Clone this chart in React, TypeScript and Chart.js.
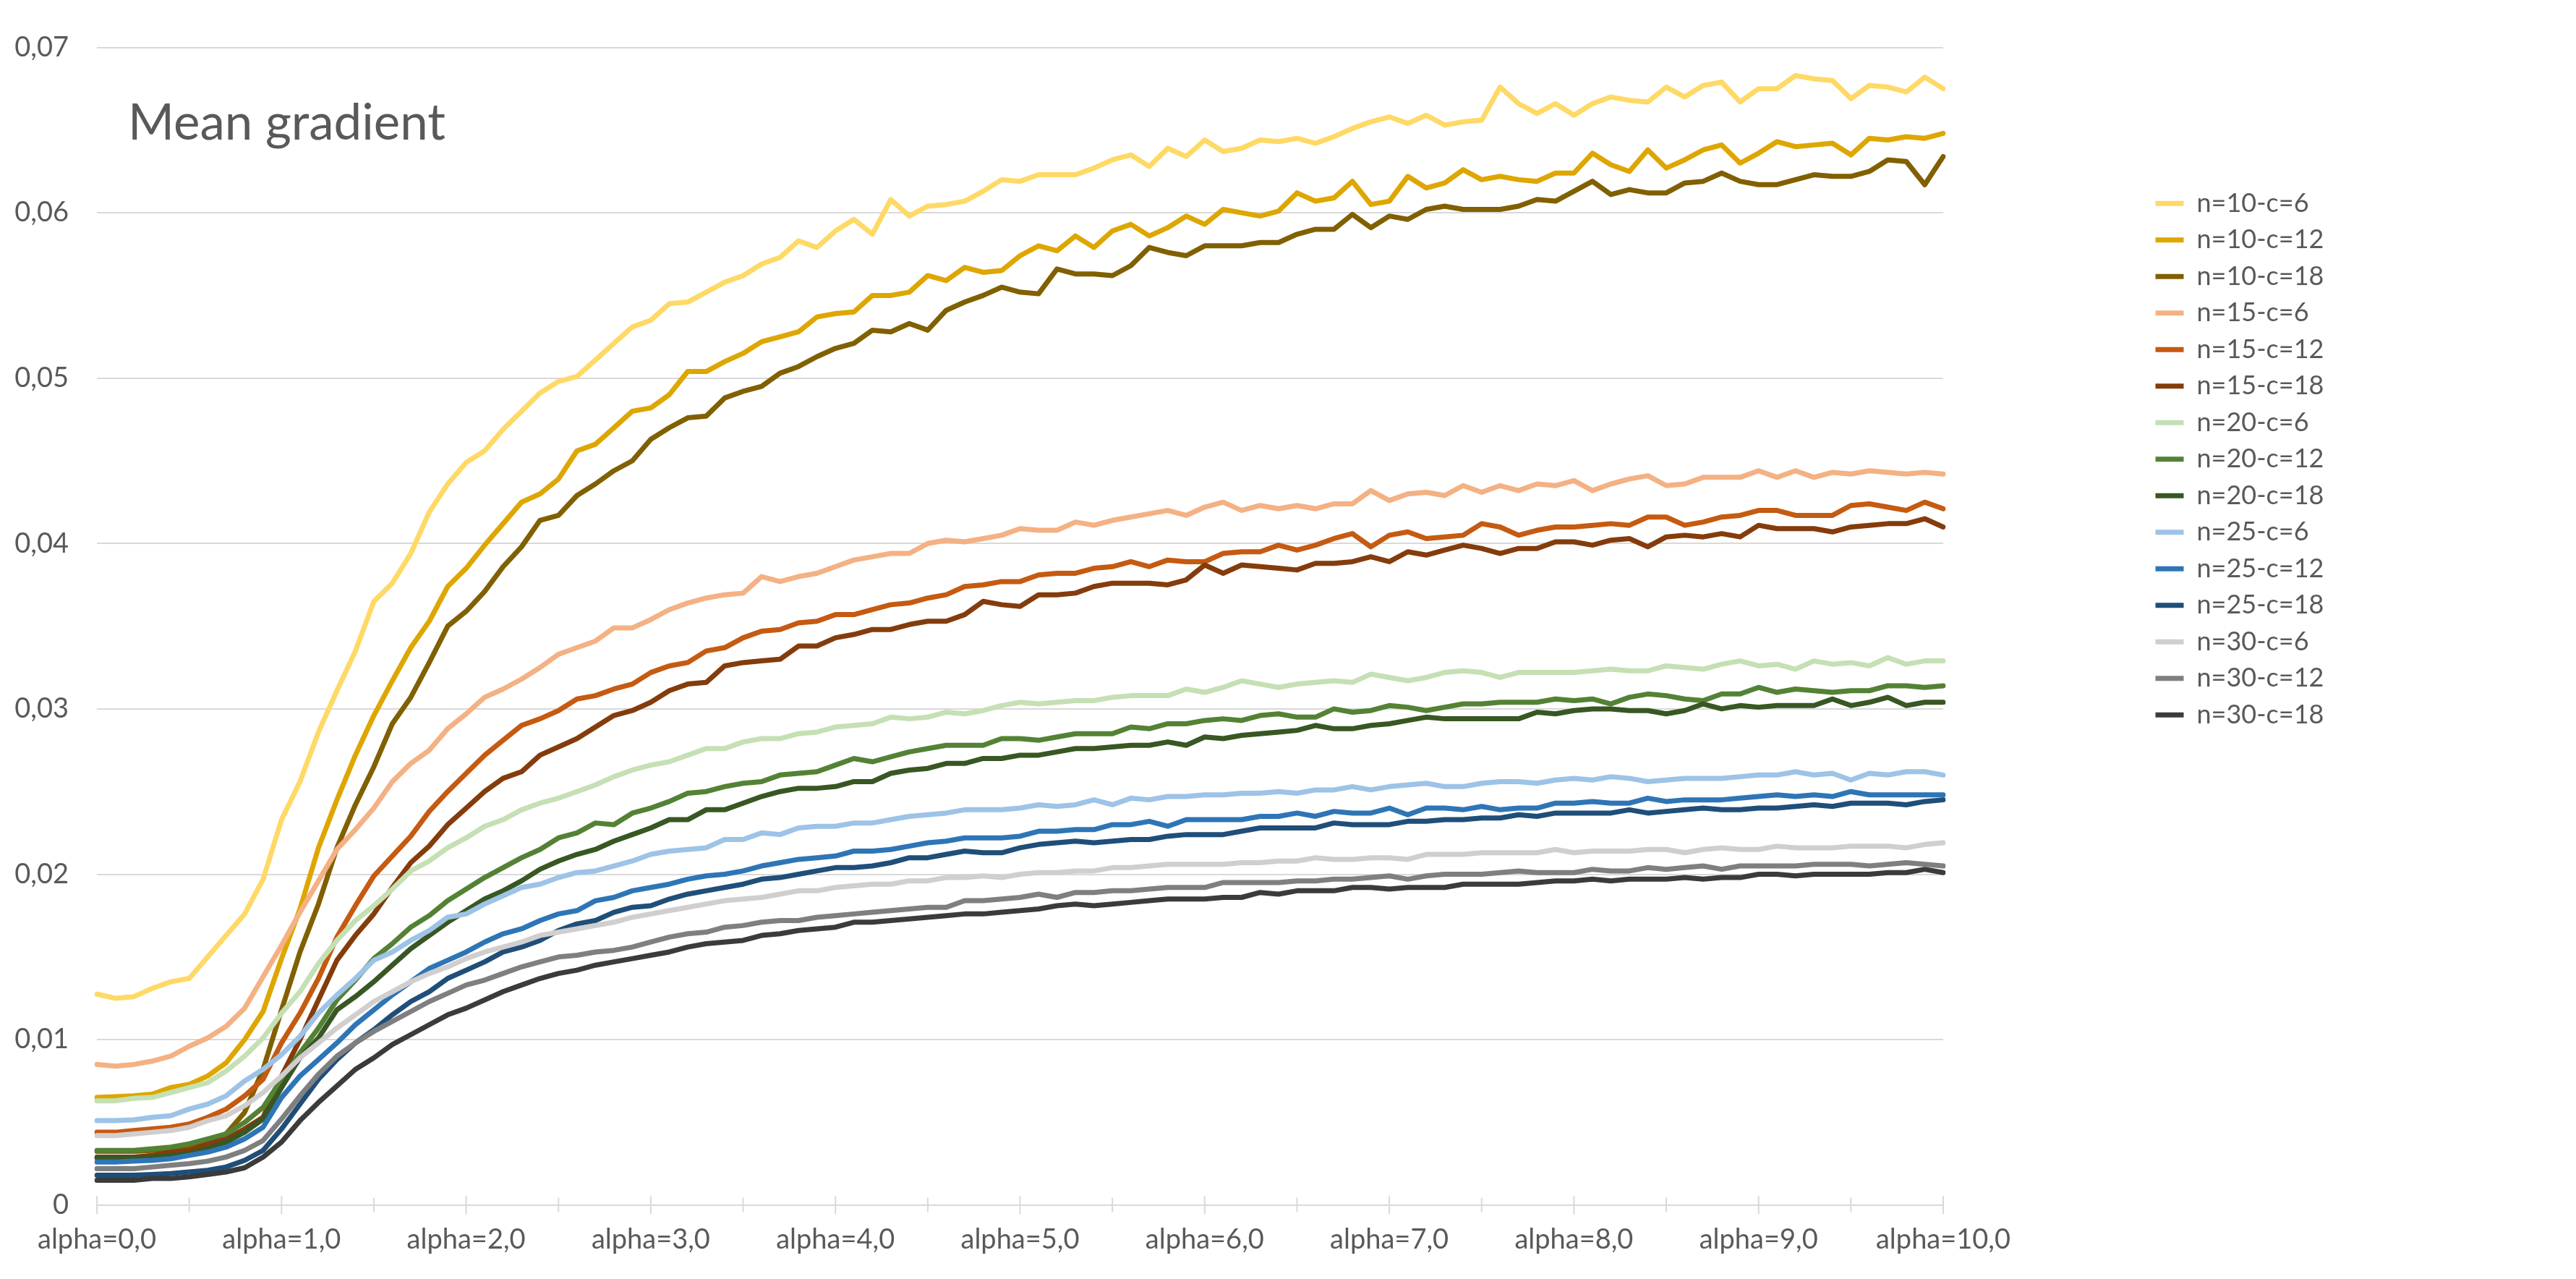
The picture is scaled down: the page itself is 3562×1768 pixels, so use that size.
import React, { useEffect, useRef } from "react";
import Chart from "chart.js/auto";

// category axis: alpha from 0,0 to 10,0 in steps of 0,1
const alphaLabels = [
  "alpha=0,0", "alpha=0,1", "alpha=0,2", "alpha=0,3", "alpha=0,4", "alpha=0,5", "alpha=0,6", "alpha=0,7", "alpha=0,8", "alpha=0,9",
  "alpha=1,0", "alpha=1,1", "alpha=1,2", "alpha=1,3", "alpha=1,4", "alpha=1,5", "alpha=1,6", "alpha=1,7", "alpha=1,8", "alpha=1,9",
  "alpha=2,0", "alpha=2,1", "alpha=2,2", "alpha=2,3", "alpha=2,4", "alpha=2,5", "alpha=2,6", "alpha=2,7", "alpha=2,8", "alpha=2,9",
  "alpha=3,0", "alpha=3,1", "alpha=3,2", "alpha=3,3", "alpha=3,4", "alpha=3,5", "alpha=3,6", "alpha=3,7", "alpha=3,8", "alpha=3,9",
  "alpha=4,0", "alpha=4,1", "alpha=4,2", "alpha=4,3", "alpha=4,4", "alpha=4,5", "alpha=4,6", "alpha=4,7", "alpha=4,8", "alpha=4,9",
  "alpha=5,0", "alpha=5,1", "alpha=5,2", "alpha=5,3", "alpha=5,4", "alpha=5,5", "alpha=5,6", "alpha=5,7", "alpha=5,8", "alpha=5,9",
  "alpha=6,0", "alpha=6,1", "alpha=6,2", "alpha=6,3", "alpha=6,4", "alpha=6,5", "alpha=6,6", "alpha=6,7", "alpha=6,8", "alpha=6,9",
  "alpha=7,0", "alpha=7,1", "alpha=7,2", "alpha=7,3", "alpha=7,4", "alpha=7,5", "alpha=7,6", "alpha=7,7", "alpha=7,8", "alpha=7,9",
  "alpha=8,0", "alpha=8,1", "alpha=8,2", "alpha=8,3", "alpha=8,4", "alpha=8,5", "alpha=8,6", "alpha=8,7", "alpha=8,8", "alpha=8,9",
  "alpha=9,0", "alpha=9,1", "alpha=9,2", "alpha=9,3", "alpha=9,4", "alpha=9,5", "alpha=9,6", "alpha=9,7", "alpha=9,8", "alpha=9,9",
  "alpha=10,0",
];

const seriesNames = [
  "n=10-c=6", "n=10-c=12", "n=10-c=18",
  "n=15-c=6", "n=15-c=12", "n=15-c=18",
  "n=20-c=6", "n=20-c=12", "n=20-c=18",
  "n=25-c=6", "n=25-c=12", "n=25-c=18",
  "n=30-c=6", "n=30-c=12", "n=30-c=18",
];

const seriesColors = [
  "#FFD966", "#DEA600", "#806000",
  "#F4B183", "#C55A11", "#843C0C",
  "#C5E0B4", "#548235", "#385723",
  "#9DC3E6", "#2E75B6", "#1F4E79",
  "#D0CECE", "#7F7F7F", "#3B3B3B",
];

const n10c6 = [
  0.01275, 0.0125, 0.0126, 0.0131, 0.0135, 0.0137, 0.015, 0.0163, 0.0176, 0.0197,
  0.0233, 0.0256, 0.0286, 0.0311, 0.0335, 0.0365, 0.0376, 0.0394, 0.0419, 0.0436,
  0.0449, 0.0456, 0.0469, 0.048, 0.0491, 0.0498, 0.0501, 0.0511,
  0.0521, 0.0531, 0.0535, 0.0545, 0.0546, 0.0552, 0.0558, 0.0562, 0.0569, 0.0573,
  0.0583, 0.0579, 0.0589, 0.0596, 0.0587, 0.0608, 0.0598, 0.0604, 0.0605, 0.0607,
  0.0613, 0.062, 0.0619, 0.0623, 0.0623, 0.0623, 0.0627, 0.0632, 0.0635, 0.0628,
  0.0639, 0.0634, 0.0644, 0.0637, 0.0639, 0.0644,
  0.0643, 0.0645, 0.0642, 0.0646, 0.0651, 0.0655, 0.0658, 0.0654, 0.0659, 0.0653,
  0.0655, 0.0656, 0.0676, 0.0666, 0.066, 0.0666, 0.0659, 0.0666, 0.067, 0.0668,
  0.0667, 0.0676, 0.067, 0.0677, 0.0679, 0.0667, 0.0675, 0.0675, 0.0683, 0.0681,
  0.068, 0.0669, 0.0677, 0.0676, 0.0673, 0.0682, 0.0675,
];

const n10c12 = [
  0.0065, 0.00655, 0.0066, 0.0067, 0.0071, 0.0073, 0.0078, 0.0086, 0.01, 0.0117,
  0.0149, 0.0179, 0.0216, 0.0245, 0.0272, 0.0296, 0.0317, 0.0337, 0.0353, 0.0374,
  0.0385, 0.0399, 0.0412, 0.0425, 0.043, 0.0439, 0.0456, 0.046,
  0.047, 0.048, 0.0482, 0.049, 0.0504, 0.0504, 0.051, 0.0515, 0.0522, 0.0525,
  0.0528, 0.0537, 0.0539, 0.054, 0.055, 0.055, 0.0552, 0.0562, 0.0559, 0.0567,
  0.0564, 0.0565, 0.0574, 0.058, 0.0577, 0.0586, 0.0579, 0.0589, 0.0593, 0.0586,
  0.0591, 0.0598, 0.0593, 0.0602, 0.06, 0.0598,
  0.0601, 0.0612, 0.0607, 0.0609, 0.0619, 0.0605, 0.0607, 0.0622, 0.0615, 0.0618,
  0.0626, 0.062, 0.0622, 0.062, 0.0619, 0.0624, 0.0624, 0.0636, 0.0629, 0.0625,
  0.0638, 0.0627, 0.0632, 0.0638, 0.0641, 0.063, 0.0636, 0.0643, 0.064, 0.0641,
  0.0642, 0.0635, 0.0645, 0.0644, 0.0646, 0.0645, 0.0648,
];

const n10c18 = [
  0.00325, 0.00325, 0.00325, 0.0033, 0.0034, 0.0035, 0.0038, 0.0043, 0.0056, 0.0082,
  0.0118, 0.0153, 0.0182, 0.0216, 0.0242, 0.0265, 0.0291, 0.0307, 0.0328, 0.035,
  0.0359, 0.0371, 0.0386, 0.0398, 0.0414, 0.0417, 0.0429, 0.0436,
  0.0444, 0.045, 0.0463, 0.047, 0.0476, 0.0477, 0.0488, 0.0492, 0.0495, 0.0503,
  0.0507, 0.0513, 0.0518, 0.0521, 0.0529, 0.0528, 0.0533, 0.0529, 0.0541, 0.0546,
  0.055, 0.0555, 0.0552, 0.0551, 0.0566, 0.0563, 0.0563, 0.0562, 0.0568, 0.0579,
  0.0576, 0.0574, 0.058, 0.058, 0.058, 0.0582,
  0.0582, 0.0587, 0.059, 0.059, 0.0599, 0.0591, 0.0598, 0.0596, 0.0602, 0.0604,
  0.0602, 0.0602, 0.0602, 0.0604, 0.0608, 0.0607, 0.0613, 0.0619, 0.0611, 0.0614,
  0.0612, 0.0612, 0.0618, 0.0619, 0.0624, 0.0619, 0.0617, 0.0617, 0.062, 0.0623,
  0.0622, 0.0622, 0.0625, 0.0632, 0.0631, 0.0617, 0.0634,
];

const n15c6 = [
  0.0085, 0.0084, 0.0085, 0.0087, 0.009, 0.0096, 0.0101, 0.0108, 0.0119, 0.0138,
  0.0157, 0.0177, 0.0196, 0.0215, 0.0227, 0.024, 0.0256, 0.0267, 0.0275, 0.0288,
  0.0297, 0.0307, 0.0312, 0.0318, 0.0325, 0.0333, 0.0337, 0.0341,
  0.0349, 0.0349, 0.0354, 0.036, 0.0364, 0.0367, 0.0369, 0.037, 0.038, 0.0377,
  0.038, 0.0382, 0.0386, 0.039, 0.0392, 0.0394, 0.0394, 0.04, 0.0402, 0.0401,
  0.0403, 0.0405, 0.0409, 0.0408, 0.0408, 0.0413, 0.0411, 0.0414, 0.0416, 0.0418,
  0.042, 0.0417, 0.0422, 0.0425, 0.042, 0.0423,
  0.0421, 0.0423, 0.0421, 0.0424, 0.0424, 0.0432, 0.0426, 0.043, 0.0431, 0.0429,
  0.0435, 0.0431, 0.0435, 0.0432, 0.0436, 0.0435, 0.0438, 0.0432, 0.0436, 0.0439,
  0.0441, 0.0435, 0.0436, 0.044, 0.044, 0.044, 0.0444, 0.044, 0.0444, 0.044,
  0.0443, 0.0442, 0.0444, 0.0443, 0.0442, 0.0443, 0.0442,
];

const n15c12 = [
  0.0044, 0.0044, 0.0045, 0.0046, 0.0047, 0.0049, 0.0053, 0.0058, 0.0066, 0.0076,
  0.0098, 0.0116, 0.0137, 0.0162, 0.0181, 0.0199, 0.0211, 0.0223, 0.0238, 0.025,
  0.0261, 0.0272, 0.0281, 0.029, 0.0294, 0.0299, 0.0306, 0.0308,
  0.0312, 0.0315, 0.0322, 0.0326, 0.0328, 0.0335, 0.0337, 0.0343, 0.0347, 0.0348,
  0.0352, 0.0353, 0.0357, 0.0357, 0.036, 0.0363, 0.0364, 0.0367, 0.0369, 0.0374,
  0.0375, 0.0377, 0.0377, 0.0381, 0.0382, 0.0382, 0.0385, 0.0386, 0.0389, 0.0386,
  0.039, 0.0389, 0.0389, 0.0394, 0.0395, 0.0395,
  0.0399, 0.0396, 0.0399, 0.0403, 0.0406, 0.0398, 0.0405, 0.0407, 0.0403, 0.0404,
  0.0405, 0.0412, 0.041, 0.0405, 0.0408, 0.041, 0.041, 0.0411, 0.0412, 0.0411,
  0.0416, 0.0416, 0.0411, 0.0413, 0.0416, 0.0417, 0.042, 0.042, 0.0417, 0.0417,
  0.0417, 0.0423, 0.0424, 0.0422, 0.042, 0.0425, 0.0421,
];

const n15c18 = [
  0.0029, 0.0029, 0.0029, 0.003, 0.0032, 0.0033, 0.0037, 0.004, 0.0046, 0.0053,
  0.0078, 0.01, 0.0124, 0.0148, 0.0163, 0.0176, 0.0192, 0.0207, 0.0217, 0.023,
  0.024, 0.025, 0.0258, 0.0262, 0.0272, 0.0277, 0.0282, 0.0289,
  0.0296, 0.0299, 0.0304, 0.0311, 0.0315, 0.0316, 0.0326, 0.0328, 0.0329, 0.033,
  0.0338, 0.0338, 0.0343, 0.0345, 0.0348, 0.0348, 0.0351, 0.0353, 0.0353, 0.0357,
  0.0365, 0.0363, 0.0362, 0.0369, 0.0369, 0.037, 0.0374, 0.0376, 0.0376, 0.0376,
  0.0375, 0.0378, 0.0387, 0.0382, 0.0387, 0.0386,
  0.0385, 0.0384, 0.0388, 0.0388, 0.0389, 0.0392, 0.0389, 0.0395, 0.0393, 0.0396,
  0.0399, 0.0397, 0.0394, 0.0397, 0.0397, 0.0401, 0.0401, 0.0399, 0.0402, 0.0403,
  0.0398, 0.0404, 0.0405, 0.0404, 0.0406, 0.0404, 0.0411, 0.0409, 0.0409, 0.0409,
  0.0407, 0.041, 0.0411, 0.0412, 0.0412, 0.0415, 0.041,
];

const n20c6 = [
  0.0063, 0.0063, 0.00645, 0.0065, 0.0068, 0.0071, 0.0074, 0.0081, 0.009, 0.0101,
  0.0116, 0.0129, 0.0146, 0.016, 0.0172, 0.0181, 0.0191, 0.0202, 0.0208, 0.0216,
  0.0222, 0.0229, 0.0233, 0.0239, 0.0243, 0.0246, 0.025, 0.0254,
  0.0259, 0.0263, 0.0266, 0.0268, 0.0272, 0.0276, 0.0276, 0.028, 0.0282, 0.0282,
  0.0285, 0.0286, 0.0289, 0.029, 0.0291, 0.0295, 0.0294, 0.0295, 0.0298, 0.0297,
  0.0299, 0.0302, 0.0304, 0.0303, 0.0304, 0.0305, 0.0305, 0.0307, 0.0308, 0.0308,
  0.0308, 0.0312, 0.031, 0.0313, 0.0317, 0.0315,
  0.0313, 0.0315, 0.0316, 0.0317, 0.0316, 0.0321, 0.0319, 0.0317, 0.0319, 0.0322,
  0.0323, 0.0322, 0.0319, 0.0322, 0.0322, 0.0322, 0.0322, 0.0323, 0.0324, 0.0323,
  0.0323, 0.0326, 0.0325, 0.0324, 0.0327, 0.0329, 0.0326, 0.0327, 0.0324, 0.0329,
  0.0327, 0.0328, 0.0326, 0.0331, 0.0327, 0.0329, 0.0329,
];

const n20c12 = [
  0.0033, 0.0033, 0.0033, 0.0034, 0.0035, 0.0037, 0.004, 0.0043, 0.005, 0.0059,
  0.0076, 0.0092, 0.0107, 0.0124, 0.0136, 0.0149, 0.0158, 0.0168, 0.0175, 0.0184,
  0.0191, 0.0198, 0.0204, 0.021, 0.0215, 0.0222, 0.0225, 0.0231,
  0.023, 0.0237, 0.024, 0.0244, 0.0249, 0.025, 0.0253, 0.0255, 0.0256, 0.026,
  0.0261, 0.0262, 0.0266, 0.027, 0.0268, 0.0271, 0.0274, 0.0276, 0.0278, 0.0278,
  0.0278, 0.0282, 0.0282, 0.0281, 0.0283, 0.0285, 0.0285, 0.0285, 0.0289, 0.0288,
  0.0291, 0.0291, 0.0293, 0.0294, 0.0293, 0.0296,
  0.0297, 0.0295, 0.0295, 0.03, 0.0298, 0.0299, 0.0302, 0.0301, 0.0299, 0.0301,
  0.0303, 0.0303, 0.0304, 0.0304, 0.0304, 0.0306, 0.0305, 0.0306, 0.0303, 0.0307,
  0.0309, 0.0308, 0.0306, 0.0305, 0.0309, 0.0309, 0.0313, 0.031, 0.0312, 0.0311,
  0.031, 0.0311, 0.0311, 0.0314, 0.0314, 0.0313, 0.0314,
];

const n20c18 = [
  0.00285, 0.00285, 0.00285, 0.0029, 0.003, 0.0031, 0.0034, 0.0038, 0.0044, 0.0052,
  0.0071, 0.0089, 0.0101, 0.0118, 0.0126, 0.0135, 0.0145, 0.0155, 0.0163, 0.0171,
  0.0178, 0.0185, 0.019, 0.0196, 0.0203, 0.0208, 0.0212, 0.0215,
  0.022, 0.0224, 0.0228, 0.0233, 0.0233, 0.0239, 0.0239, 0.0243, 0.0247, 0.025,
  0.0252, 0.0252, 0.0253, 0.0256, 0.0256, 0.0261, 0.0263, 0.0264, 0.0267, 0.0267,
  0.027, 0.027, 0.0272, 0.0272, 0.0274, 0.0276, 0.0276, 0.0277, 0.0278, 0.0278,
  0.028, 0.0278, 0.0283, 0.0282, 0.0284, 0.0285,
  0.0286, 0.0287, 0.029, 0.0288, 0.0288, 0.029, 0.0291, 0.0293, 0.0295, 0.0294,
  0.0294, 0.0294, 0.0294, 0.0294, 0.0298, 0.0297, 0.0299, 0.03, 0.03, 0.0299,
  0.0299, 0.0297, 0.0299, 0.0303, 0.03, 0.0302, 0.0301, 0.0302, 0.0302, 0.0302,
  0.0306, 0.0302, 0.0304, 0.0307, 0.0302, 0.0304, 0.0304,
];

const n25c6 = [
  0.0051, 0.0051, 0.00515, 0.0053, 0.0054, 0.0058, 0.0061, 0.0066, 0.0075, 0.0082,
  0.0091, 0.0102, 0.0116, 0.0127, 0.0137, 0.0148, 0.0153, 0.016, 0.0166, 0.0174,
  0.0176, 0.0182, 0.0187, 0.0192, 0.0194, 0.0198, 0.0201, 0.0202,
  0.0205, 0.0208, 0.0212, 0.0214, 0.0215, 0.0216, 0.0221, 0.0221, 0.0225, 0.0224,
  0.0228, 0.0229, 0.0229, 0.0231, 0.0231, 0.0233, 0.0235, 0.0236, 0.0237, 0.0239,
  0.0239, 0.0239, 0.024, 0.0242, 0.0241, 0.0242, 0.0245, 0.0242, 0.0246, 0.0245,
  0.0247, 0.0247, 0.0248, 0.0248, 0.0249, 0.0249,
  0.025, 0.0249, 0.0251, 0.0251, 0.0253, 0.0251, 0.0253, 0.0254, 0.0255, 0.0253,
  0.0253, 0.0255, 0.0256, 0.0256, 0.0255, 0.0257, 0.0258, 0.0257, 0.0259, 0.0258,
  0.0256, 0.0257, 0.0258, 0.0258, 0.0258, 0.0259, 0.026, 0.026, 0.0262, 0.026,
  0.0261, 0.0257, 0.0261, 0.026, 0.0262, 0.0262, 0.026,
];

const n25c12 = [
  0.0026, 0.0026, 0.00265, 0.0027, 0.0028, 0.003, 0.0032, 0.0035, 0.004, 0.0047,
  0.0065, 0.0078, 0.0088, 0.0098, 0.0109, 0.0118, 0.0127, 0.0135, 0.0143, 0.0148,
  0.0153, 0.0159, 0.0164, 0.0167, 0.0172, 0.0176, 0.0178, 0.0184,
  0.0186, 0.019, 0.0192, 0.0194, 0.0197, 0.0199, 0.02, 0.0202, 0.0205, 0.0207,
  0.0209, 0.021, 0.0211, 0.0214, 0.0214, 0.0215, 0.0217, 0.0219, 0.022, 0.0222,
  0.0222, 0.0222, 0.0223, 0.0226, 0.0226, 0.0227, 0.0227, 0.023, 0.023, 0.0232,
  0.0229, 0.0233, 0.0233, 0.0233, 0.0233, 0.0235,
  0.0235, 0.0237, 0.0235, 0.0238, 0.0237, 0.0237, 0.024, 0.0236, 0.024, 0.024,
  0.0239, 0.0241, 0.0239, 0.024, 0.024, 0.0243, 0.0243, 0.0244, 0.0243, 0.0243,
  0.0246, 0.0244, 0.0245, 0.0245, 0.0245, 0.0246, 0.0247, 0.0248, 0.0247, 0.0248,
  0.0247, 0.025, 0.0248, 0.0248, 0.0248, 0.0248, 0.0248,
];

const n25c18 = [
  0.0018, 0.0018, 0.0018, 0.00185, 0.0019, 0.002, 0.0021, 0.0023, 0.0027, 0.0033,
  0.0046, 0.0061, 0.0076, 0.0088, 0.0098, 0.0106, 0.0115, 0.0123, 0.0129, 0.0137,
  0.0142, 0.0147, 0.0153, 0.0156, 0.016, 0.0166, 0.017, 0.0172,
  0.0177, 0.018, 0.0181, 0.0185, 0.0188, 0.019, 0.0192, 0.0194, 0.0197, 0.0198,
  0.02, 0.0202, 0.0204, 0.0204, 0.0205, 0.0207, 0.021, 0.021, 0.0212, 0.0214,
  0.0213, 0.0213, 0.0216, 0.0218, 0.0219, 0.022, 0.0219, 0.022, 0.0221, 0.0221,
  0.0223, 0.0224, 0.0224, 0.0224, 0.0226, 0.0228,
  0.0228, 0.0228, 0.0228, 0.0231, 0.023, 0.023, 0.023, 0.0232, 0.0232, 0.0233,
  0.0233, 0.0234, 0.0234, 0.0236, 0.0235, 0.0237, 0.0237, 0.0237, 0.0237, 0.0239,
  0.0237, 0.0238, 0.0239, 0.024, 0.0239, 0.0239, 0.024, 0.024, 0.0241, 0.0242,
  0.0241, 0.0243, 0.0243, 0.0243, 0.0242, 0.0244, 0.0245,
];

const n30c6 = [
  0.0042, 0.0042, 0.0043, 0.0044, 0.0045, 0.0047, 0.0051, 0.0054, 0.006, 0.0068,
  0.0078, 0.0089, 0.0098, 0.0107, 0.0115, 0.0123, 0.0129, 0.0135, 0.014, 0.0144,
  0.0149, 0.0153, 0.0156, 0.0159, 0.0163, 0.0165, 0.0167, 0.0169,
  0.0171, 0.0174, 0.0176, 0.0178, 0.018, 0.0182, 0.0184, 0.0185, 0.0186, 0.0188,
  0.019, 0.019, 0.0192, 0.0193, 0.0194, 0.0194, 0.0196, 0.0196, 0.0198, 0.0198,
  0.0199, 0.0198, 0.02, 0.0201, 0.0201, 0.0202, 0.0202, 0.0204, 0.0204, 0.0205,
  0.0206, 0.0206, 0.0206, 0.0206, 0.0207, 0.0207,
  0.0208, 0.0208, 0.021, 0.0209, 0.0209, 0.021, 0.021, 0.0209, 0.0212, 0.0212,
  0.0212, 0.0213, 0.0213, 0.0213, 0.0213, 0.0215, 0.0213, 0.0214, 0.0214, 0.0214,
  0.0215, 0.0215, 0.0213, 0.0215, 0.0216, 0.0215, 0.0215, 0.0217, 0.0216, 0.0216,
  0.0216, 0.0217, 0.0217, 0.0217, 0.0216, 0.0218, 0.0219,
];

const n30c12 = [
  0.0022, 0.0022, 0.0022, 0.0023, 0.0024, 0.0025, 0.00265, 0.0029, 0.0033, 0.0039,
  0.0052, 0.0066, 0.0079, 0.009, 0.0098, 0.0105, 0.0111, 0.0117, 0.0123, 0.0128,
  0.0133, 0.0136, 0.014, 0.0144, 0.0147, 0.015, 0.0151, 0.0153,
  0.0154, 0.0156, 0.0159, 0.0162, 0.0164, 0.0165, 0.0168, 0.0169, 0.0171, 0.0172,
  0.0172, 0.0174, 0.0175, 0.0176, 0.0177, 0.0178, 0.0179, 0.018, 0.018, 0.0184,
  0.0184, 0.0185, 0.0186, 0.0188, 0.0186, 0.0189, 0.0189, 0.019, 0.019, 0.0191,
  0.0192, 0.0192, 0.0192, 0.0195, 0.0195, 0.0195,
  0.0195, 0.0196, 0.0196, 0.0197, 0.0197, 0.0198, 0.0199, 0.0197, 0.0199, 0.02,
  0.02, 0.02, 0.0201, 0.0202, 0.0201, 0.0201, 0.0201, 0.0203, 0.0202, 0.0202,
  0.0204, 0.0203, 0.0204, 0.0205, 0.0203, 0.0205, 0.0205, 0.0205, 0.0205, 0.0206,
  0.0206, 0.0206, 0.0205, 0.0206, 0.0207, 0.0206, 0.0205,
];

const n30c18 = [
  0.0015, 0.0015, 0.0015, 0.0016, 0.0016, 0.0017, 0.00185, 0.002, 0.00225, 0.0029,
  0.0038, 0.0051, 0.0062, 0.0072, 0.0082, 0.0089, 0.0097, 0.0103, 0.0109, 0.0115,
  0.0119, 0.0124, 0.0129, 0.0133, 0.0137, 0.014, 0.0142, 0.0145,
  0.0147, 0.0149, 0.0151, 0.0153, 0.0156, 0.0158, 0.0159, 0.016, 0.0163, 0.0164,
  0.0166, 0.0167, 0.0168, 0.0171, 0.0171, 0.0172, 0.0173, 0.0174, 0.0175, 0.0176,
  0.0176, 0.0177, 0.0178, 0.0179, 0.0181, 0.0182, 0.0181, 0.0182, 0.0183, 0.0184,
  0.0185, 0.0185, 0.0185, 0.0186, 0.0186, 0.0189,
  0.0188, 0.019, 0.019, 0.019, 0.0192, 0.0192, 0.0191, 0.0192, 0.0192, 0.0192,
  0.0194, 0.0194, 0.0194, 0.0194, 0.0195, 0.0196, 0.0196, 0.0197, 0.0196, 0.0197,
  0.0197, 0.0197, 0.0198, 0.0197, 0.0198, 0.0198, 0.02, 0.02, 0.0199, 0.02,
  0.02, 0.02, 0.02, 0.0201, 0.0201, 0.0203, 0.0201,
];

const seriesValues = [
  n10c6, n10c12, n10c18,
  n15c6, n15c12, n15c18,
  n20c6, n20c12, n20c18,
  n25c6, n25c12, n25c18,
  n30c6, n30c12, n30c18,
];

const TEXT = "#595959";
const GRID = "#d9d9d9";
const FONT = "Lato";

// title sits inside the plot area, top left
const titlePlugin = {
  id: "insideTitle",
  afterDraw(chart: any) {
    const { ctx, chartArea } = chart;
    ctx.save();
    ctx.font = `69px ${FONT}`;
    ctx.fillStyle = TEXT;
    ctx.textAlign = "left";
    ctx.textBaseline = "alphabetic";
    ctx.fillText("Mean gradient", chartArea.left + 43, chartArea.top + 127.5);
    ctx.restore();
  },
};

// Excel style tick marks crossing the category axis
const tickMarksPlugin = {
  id: "crossTicks",
  beforeDatasetsDraw(chart: any) {
    const { ctx } = chart;
    const xs = chart.scales.x;
    const y0 = chart.scales.y.getPixelForValue(0);
    ctx.save();
    ctx.strokeStyle = GRID;
    ctx.lineWidth = 2;
    ctx.beginPath();
    for (let i = 0; i < alphaLabels.length; i += 5) {
      const px = xs.getPixelForValue(i);
      const h = i % 10 === 0 ? 12.5 : 10;
      ctx.moveTo(px, y0 - h);
      ctx.lineTo(px, y0 + h);
    }
    ctx.stroke();
    ctx.restore();
  },
};

export default function App() {
  const canvasRef = useRef<HTMLCanvasElement>(null);
  const chartRef = useRef<Chart | null>(null);

  useEffect(() => {
    if (chartRef.current) chartRef.current.destroy();
    const ctx = canvasRef.current?.getContext("2d");
    if (!ctx) return;

    Chart.defaults.font.family = FONT;
    Chart.defaults.color = TEXT;

    chartRef.current = new Chart(ctx, {
      type: "line",
      data: {
        labels: alphaLabels,
        datasets: seriesNames.map((name, k) => ({
          label: name,
          data: seriesValues[k],
          borderColor: seriesColors[k],
          backgroundColor: seriesColors[k],
          borderWidth: 7,
          borderJoinStyle: "round",
          borderCapStyle: "round",
          pointRadius: 0,
          pointHoverRadius: 0,
          tension: 0,
          fill: false,
          // later series are painted on top, as in the original
          order: seriesNames.length - k,
        })),
      },
      options: {
        animation: false,
        responsive: true,
        maintainAspectRatio: false,
        events: [],
        layout: { padding: { top: 65.5, right: 346, bottom: 0, left: 0 } },
        scales: {
          x: {
            type: "category",
            grid: { display: false, drawTicks: false },
            border: { display: true, color: GRID, width: 2 },
            ticks: {
              autoSkip: false,
              maxRotation: 0,
              minRotation: 0,
              padding: 25,
              color: TEXT,
              font: { size: 38 },
              callback: (_v: any, i: number) => (i % 10 === 0 ? alphaLabels[i] : ""),
            },
            afterFit: (s: any) => {
              s.height = 102.3;
            },
          },
          y: {
            min: 0,
            max: 0.07,
            grid: { color: GRID, lineWidth: 2, drawTicks: false },
            border: { display: false },
            ticks: {
              stepSize: 0.01,
              padding: 39,
              color: TEXT,
              font: { size: 38 },
              callback: (v: any) => (v === 0 ? "0" : Number(v).toFixed(2).replace(".", ",")),
            },
            afterFit: (s: any) => {
              s.width = 134;
            },
          },
          // empty spacer between the plot and the legend
          gap: {
            type: "linear",
            position: "right",
            display: true,
            grid: { display: false, drawTicks: false },
            border: { display: false },
            ticks: { display: false },
            afterFit: (s: any) => {
              s.width = 279;
            },
          },
        },
        plugins: {
          title: { display: false },
          tooltip: { enabled: false },
          legend: {
            position: "right",
            align: "start",
            maxWidth: 250,
            title: { display: true, text: "", font: { size: 12 }, padding: { top: 0, bottom: 168.85 } },
            labels: {
              usePointStyle: true,
              pointStyle: "line",
              pointStyleWidth: 39,
              padding: 14.5,
              color: TEXT,
              font: { size: 36 },
              sort: (a: any, b: any) => a.datasetIndex - b.datasetIndex,
            },
          },
        },
      },
      plugins: [titlePlugin, tickMarksPlugin],
    } as any);

    return () => {
      if (chartRef.current) {
        chartRef.current.destroy();
        chartRef.current = null;
      }
    };
  }, []);

  return (
    <div style={{ position: "absolute", left: 0, top: 0, width: 3562, height: 1768, background: "#fff" }}>
      <canvas ref={canvasRef} />
    </div>
  );
}
